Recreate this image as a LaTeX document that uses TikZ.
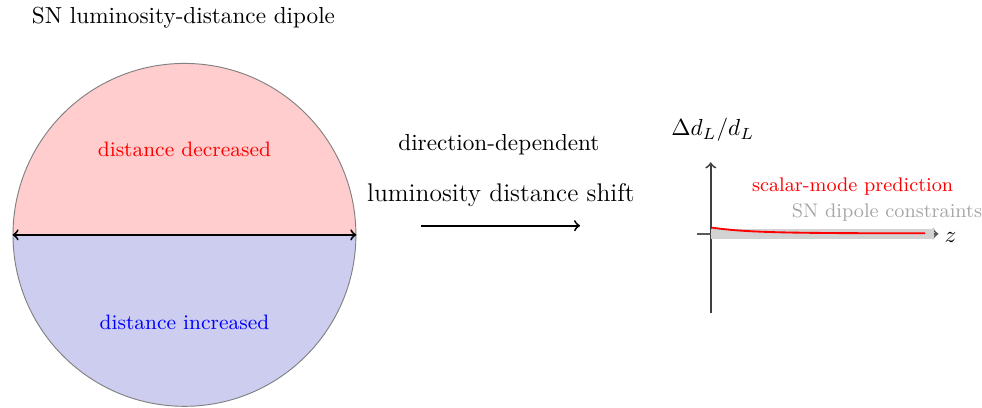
\documentclass[tikz,border=0pt]{standalone}
\usepackage{tikz}
\usetikzlibrary{positioning}
\definecolor{DipRed}{RGB}{255,205,205}
\definecolor{DipBlue}{RGB}{205,205,240}
\definecolor{BandGray}{RGB}{210,210,210}
\begin{document}
\begin{tikzpicture}[>=to]
\useasboundingbox (0,0) rectangle (14.88,6.18);
\coordinate (c) at (2.795,2.621);
\fill[DipRed] (c) ++(2.598,0) arc[start angle=0,end angle=180,radius=2.598] -- cycle;
\fill[DipBlue] (c) ++(-2.598,0) arc[start angle=180,end angle=360,radius=2.598] -- cycle;
\node[draw=gray,circle,minimum size=5.196cm,inner sep=0pt] (dip) at (c) {};
\draw[<->,thick] (dip.west)--(dip.east);
\node (title) at (2.78,5.91) {SN luminosity-distance dipole};
\node[red,font=\small] (dec) at (2.795,3.91) {distance decreased};
\node[blue,font=\small] (inc) at (2.795,1.30) {distance increased};
\node (dirdep) at (7.56,3.985) {direction-dependent};
\node[font=\fontsize{11}{13}\selectfont] (shift) at (7.59,3.23) {luminosity distance shift};
\coordinate (sL) at (6.38,2.76);\coordinate (sR) at (8.79,2.76);
\draw[->,thick] (sL)--(sR);
\coordinate (O) at (10.77,2.636);
\coordinate (ytop) at (10.77,3.72);\coordinate (ybot) at (10.77,1.44);
\coordinate (xtick) at (10.56,2.636);\coordinate (xend) at (14.22,2.636);
\draw[->,thick,black!75] (ybot)--(ytop);
\draw[->,thick,black!65] (xtick)--(xend);
\draw[BandGray,line width=4pt] (O)--(14.15,2.636);
\draw[red,thick] (10.79,2.73) .. controls (11.3,2.66) and (11.8,2.645) .. (14.02,2.645);
\node (ylab) at (10.80,4.21) {$\Delta d_L/d_L$};
\node[right=1.5pt of xend,inner sep=1pt,yshift=-1.5pt] (zlab) {$z$};
\node[red,font=\fontsize{8.5}{10}\selectfont] (scal) at (12.92,3.36) {scalar-mode prediction};
\node[gray!70,font=\fontsize{8.5}{10}\selectfont,inner sep=1pt] (sncon) at (13.44,2.96) {SN dipole constraints};
\end{tikzpicture}
\end{document}
